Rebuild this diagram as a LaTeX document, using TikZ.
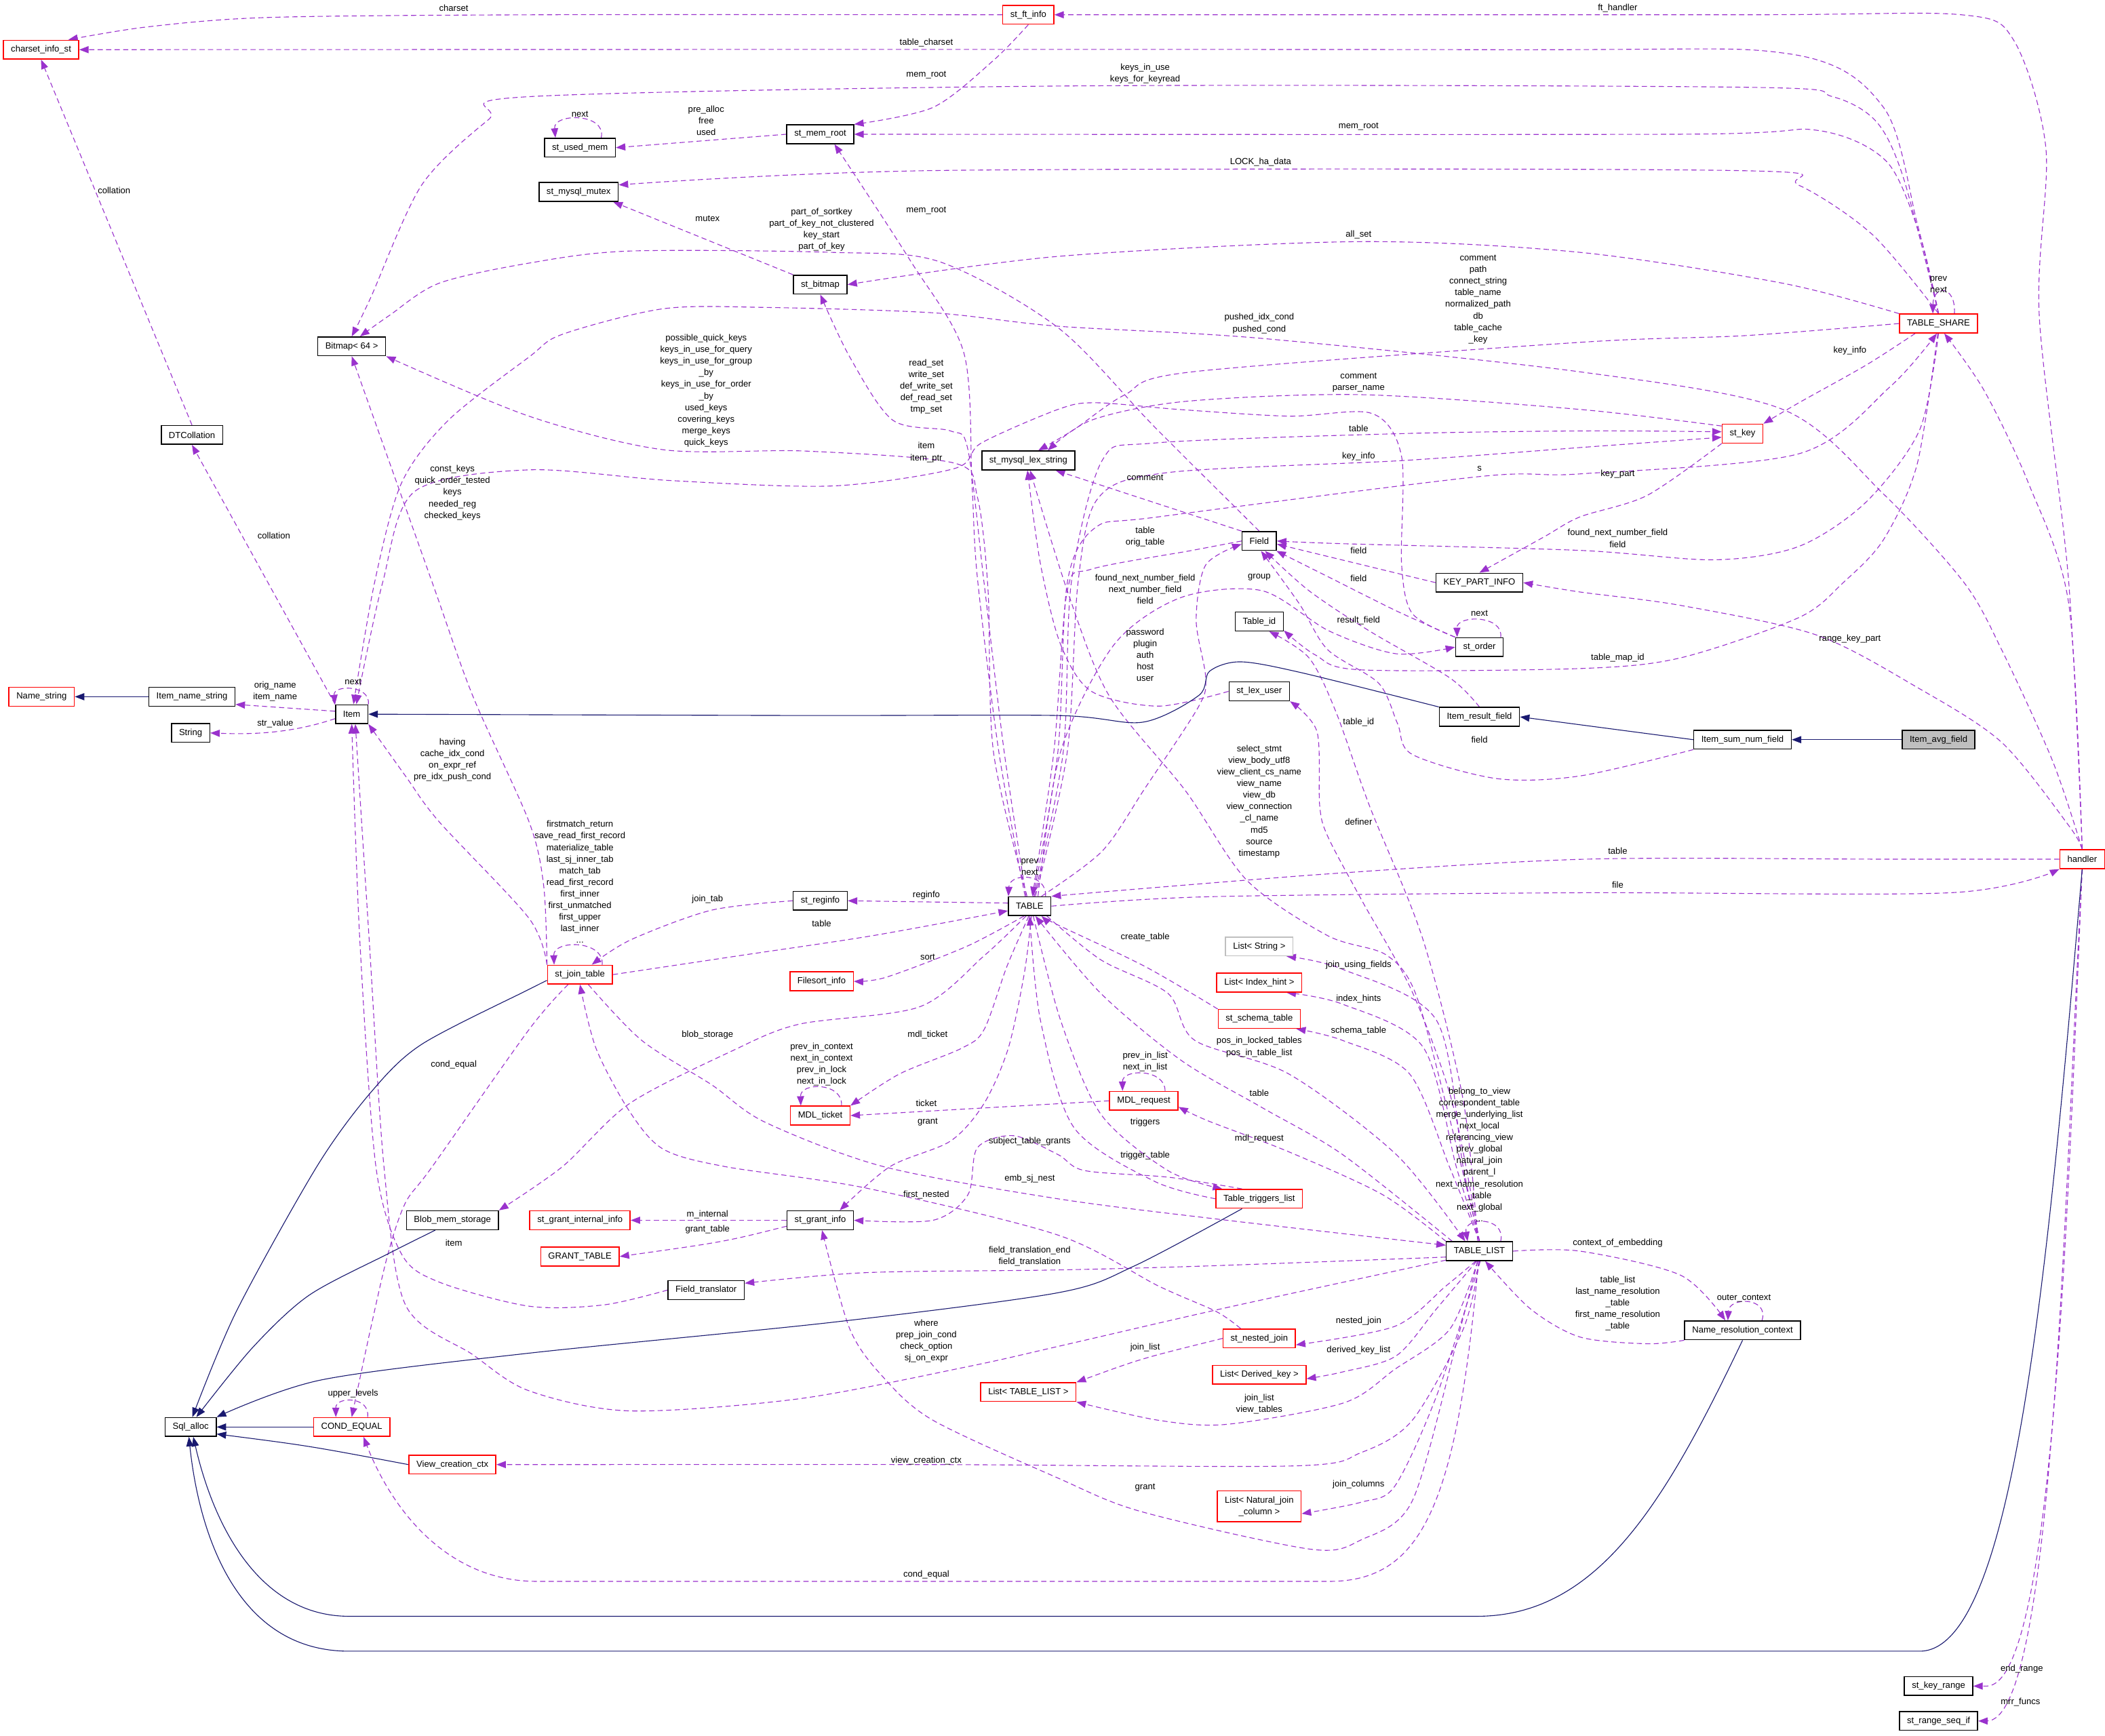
\documentclass[tikz,border=0pt]{standalone}
\usepackage{fontspec}
\setmainfont{Liberation Sans}
\usetikzlibrary{arrows.meta}

\definecolor{depcol}{HTML}{9A32CD}
\definecolor{inhcol}{HTML}{191970}
\definecolor{boxgray}{HTML}{BFBFBF}

\pgfdeclarelayer{edges}
\pgfsetlayers{edges,main}

\tikzset{
  cls/.style={draw=black, line width=1.1pt, fill=white, minimum height=0.7cm,
    inner xsep=8pt, inner ysep=0pt, align=center, font=\fontsize{9.4}{12.3}\selectfont},
  redcls/.style={cls, draw=red},
  graycls/.style={cls, draw=boxgray},
  dep/.style={draw=depcol, line width=0.8pt, dash pattern=on 5.5pt off 3.5pt,
    -{Triangle[length=10pt,width=7.5pt]}},
  inh/.style={draw=inhcol, line width=0.8pt, -{Triangle[length=10pt,width=7.5pt]}},
  lab/.style={font=\fontsize{9.4}{12.3}\selectfont, align=center, inner sep=0pt},
}

\begin{document}
\begin{tikzpicture}[x=0.05cm, y=-0.05cm]
    \useasboundingbox (0,0) rectangle (1568,1293);

    % --- classes ---
    \node[redcls] (charset_info_st) at (30.6,37) {charset\_info\_st};
    \node[redcls] (st_ft_info) at (766,11) {st\_ft\_info};
    \node[cls] (st_mem_root) at (611,100) {st\_mem\_root};
    \node[cls] (st_used_mem) at (432,110) {st\_used\_mem};
    \node[cls] (st_mysql_mutex) at (431,143) {st\_mysql\_mutex};
    \node[cls] (st_bitmap) at (611,212) {st\_bitmap};
    \node[cls] (bitmap64) at (262,258) {Bitmap< 64 >};
    \node[redcls] (TABLE_SHARE) at (1444,241) {TABLE\_SHARE};
    \node[redcls] (st_key) at (1298,323) {st\_key};
    \node[cls] (st_mysql_lex_string) at (766,343) {st\_mysql\_lex\_string};
    \node[cls] (DTCollation) at (143,324) {DTCollation};
    \node[cls] (Field) at (938,403) {Field};
    \node[cls] (KEY_PART_INFO) at (1102,434) {KEY\_PART\_INFO};
    \node[cls] (Table_id) at (938,463) {Table\_id};
    \node[cls] (st_order) at (1102,482) {st\_order};
    \node[redcls] (Name_string) at (31,519) {Name\_string};
    \node[cls] (Item_name_string) at (143,519) {Item\_name\_string};
    \node[cls] (Item) at (262,532) {Item};
    \node[cls] (String) at (142,546) {String};
    \node[cls] (st_lex_user) at (938,515) {st\_lex\_user};
    \node[cls] (Item_result_field) at (1102,534) {Item\_result\_field};
    \node[cls] (Item_sum_num_field) at (1298,551) {Item\_sum\_num\_field};
    \node[cls, fill=boxgray] (Item_avg_field) at (1444,551) {Item\_avg\_field};
    \node[redcls] (handler) at (1551,640) {handler};
    \node[cls] (st_reginfo) at (611,671) {st\_reginfo};
    \node[cls] (TABLE) at (767,675) {TABLE};
    \node[redcls] (st_join_table) at (432,726) {st\_join\_table};
    \node[redcls] (Filesort_info) at (612,731) {Filesort\_info};
    \node[graycls] (list_string) at (938,705) {List< String >};
    \node[redcls] (list_index_hint) at (938,732) {List< Index\_hint >};
    \node[redcls] (st_schema_table) at (938,759) {st\_schema\_table};
    \node[redcls] (MDL_request) at (852,820) {MDL\_request};
    \node[redcls] (MDL_ticket) at (611,831) {MDL\_ticket};
    \node[redcls] (Table_triggers_list) at (938,893) {Table\_triggers\_list};
    \node[cls] (Blob_mem_storage) at (337,909) {Blob\_mem\_storage};
    \node[redcls] (st_grant_internal_info) at (432,909) {st\_grant\_internal\_info};
    \node[cls] (st_grant_info) at (611,909) {st\_grant\_info};
    \node[redcls] (GRANT_TABLE) at (432,936) {GRANT\_TABLE};
    \node[cls] (Field_translator) at (526,961) {Field\_translator};
    \node[cls] (TABLE_LIST) at (1102,932) {TABLE\_LIST};
    \node[cls] (Name_resolution_context) at (1298,991) {Name\_resolution\_context};
    \node[redcls] (st_nested_join) at (938,997) {st\_nested\_join};
    \node[redcls] (list_derived_key) at (938,1024) {List< Derived\_key >};
    \node[redcls] (list_table_list) at (766,1037) {List< TABLE\_LIST >};
    \node[cls] (Sql_alloc) at (142,1063) {Sql\_alloc};
    \node[redcls] (COND_EQUAL) at (262,1063) {COND\_EQUAL};
    \node[redcls] (View_creation_ctx) at (337,1091) {View\_creation\_ctx};
    \node[redcls, minimum height=1.15cm] (list_natural_join) at (938,1122) {List< Natural\_join\\\_column >};
    \node[cls] (st_key_range) at (1444,1256) {st\_key\_range};
    \node[cls] (st_range_seq_if) at (1444,1282) {st\_range\_seq\_if};

    % --- edge labels ---
    \node[lab] (lcharset) at (338,6) {charset};
    \node[lab] (lftHandler) at (1205,6) {ft\_handler};
    \node[lab] (ltableCharset) at (690,32) {table\_charset};
    \node[lab] (lmemRootFt) at (690,56) {mem\_root};
    \node[lab] (lkeysInUse) at (853,55) {keys\_in\_use\\keys\_for\_keyread};
    \node[lab] (lpreAlloc) at (526,90) {pre\_alloc\\free\\used};
    \node[lab] (lnextUsed) at (432,85) {next};
    \node[lab] (lmemRootShare) at (1012,94) {mem\_root};
    \node[lab] (llock) at (939,121) {LOCK\_ha\_data};
    \node[lab] (lcollation1) at (85,142) {collation};
    \node[lab] (lmemRootTable) at (690,157) {mem\_root};
    \node[lab] (lmutex) at (527,163) {mutex};
    \node[lab] (lpartOf) at (612,171) {part\_of\_sortkey\\part\_of\_key\_not\_clustered\\key\_start\\part\_of\_key};
    \node[lab] (lallSet) at (1012,175) {all\_set};
    \node[lab] (lprevNextShare) at (1444,212) {prev\\next};
    \node[lab] (lcommentShare) at (1101,223) {comment\\path\\connect\_string\\table\_name\\normalized\_path\\db\\table\_cache\\\_key};
    \node[lab] (lpushed) at (938,241) {pushed\_idx\_cond\\pushed\_cond};
    \node[lab] (lkeyInfoShare) at (1378,261) {key\_info};
    \node[lab] (lreadSet) at (690,288) {read\_set\\write\_set\\def\_write\_set\\def\_read\_set\\tmp\_set};
    \node[lab] (lcommentKey) at (1012,285) {comment\\parser\_name};
    \node[lab] (lpossible) at (526,291) {possible\_quick\_keys\\keys\_in\_use\_for\_query\\keys\_in\_use\_for\_group\\\_by\\keys\_in\_use\_for\_order\\\_by\\used\_keys\\covering\_keys\\merge\_keys\\quick\_keys};
    \node[lab] (ltableTab) at (1012,319) {table};
    \node[lab] (lkeyInfoTab) at (1012,340) {key\_info};
    \node[lab] (litemOrder) at (690,337) {item\\item\_ptr};
    \node[lab] (ls) at (1102,349) {s};
    \node[lab] (lkeyPart) at (1205,353) {key\_part};
    \node[lab] (lcommentField) at (853,356) {comment};
    \node[lab] (lconstKeys) at (337,367) {const\_keys\\quick\_order\_tested\\keys\\needed\_reg\\checked\_keys};
    \node[lab] (lcollation2) at (204,399) {collation};
    \node[lab] (ltableOrig) at (853,400) {table\\orig\_table};
    \node[lab] (lfoundShare) at (1205,401) {found\_next\_number\_field\\field};
    \node[lab] (lfieldKpi) at (1012,410) {field};
    \node[lab] (lgroup) at (938,430) {group};
    \node[lab] (lfieldOrder) at (1012,431) {field};
    \node[lab] (lfoundTab) at (853,439) {found\_next\_number\_field\\next\_number\_field\\field};
    \node[lab] (lnextOrder) at (1102,457) {next};
    \node[lab] (lresultField) at (1012,462) {result\_field};
    \node[lab] (lrangeKeyPart) at (1378,476) {range\_key\_part};
    \node[lab] (lpassword) at (853,488) {password\\plugin\\auth\\host\\user};
    \node[lab] (ltableMapId) at (1205,490) {table\_map\_id};
    \node[lab] (lnextItem) at (263,508) {next};
    \node[lab] (lorigName) at (205,515) {orig\_name\\item\_name};
    \node[lab] (ltableId) at (1012,538) {table\_id};
    \node[lab] (lstrValue) at (205,539) {str\_value};
    \node[lab] (lfieldSum) at (1102,551) {field};
    \node[lab] (lhaving) at (337,566) {having\\cache\_idx\_cond\\on\_expr\_ref\\pre\_idx\_push\_cond};
    \node[lab] (lselect) at (938,597) {select\_stmt\\view\_body\_utf8\\view\_client\_cs\_name\\view\_name\\view\_db\\view\_connection\\\_cl\_name\\md5\\source\\timestamp};
    \node[lab] (ldefiner) at (1012,612) {definer};
    \node[lab] (ltableHandler) at (1205,634) {table};
    \node[lab] (lprevNextTab) at (767,646) {prev\\next};
    \node[lab] (lfirstmatch) at (432,657) {firstmatch\_return\\save\_read\_first\_record\\materialize\_table\\last\_sj\_inner\_tab\\match\_tab\\read\_first\_record\\first\_inner\\first\_unmatched\\first\_upper\\last\_inner\\...};
    \node[lab] (ljoinTab) at (527,670) {join\_tab};
    \node[lab] (lreginfo) at (690,667) {reginfo};
    \node[lab] (lfile) at (1205,659) {file};
    \node[lab] (ltableJoin) at (612,688) {table};
    \node[lab] (lcreateTable) at (853,698) {create\_table};
    \node[lab] (lsort) at (691,713) {sort};
    \node[lab] (ljoinUsing) at (1012,719) {join\_using\_fields};
    \node[lab] (lindexHints) at (1012,744) {index\_hints};
    \node[lab] (lschemaTable) at (1012,768) {schema\_table};
    \node[lab] (lblob) at (527,771) {blob\_storage};
    \node[lab] (lmdlTicket) at (691,771) {mdl\_ticket};
    \node[lab] (lposIn) at (938,780) {pos\_in\_locked\_tables\\pos\_in\_table\_list};
    \node[lab] (lprevInContext) at (612,793) {prev\_in\_context\\next\_in\_context\\prev\_in\_lock\\next\_in\_lock};
    \node[lab] (lprevInList) at (853,791) {prev\_in\_list\\next\_in\_list};
    \node[lab] (lcondEqualJoin) at (338,793) {cond\_equal};
    \node[lab] (ltableList) at (938,814) {table};
    \node[lab] (lticket) at (690,822) {ticket};
    \node[lab] (lgrantTab) at (691,836) {grant};
    \node[lab] (ltriggers) at (853,836) {triggers};
    \node[lab] (lmdlRequest) at (938,848) {mdl\_request};
    \node[lab] (lsubject) at (767,850) {subject\_table\_grants};
    \node[lab] (lbelong) at (1102,860) {belong\_to\_view\\correspondent\_table\\merge\_underlying\_list\\next\_local\\referencing\_view\\prev\_global\\natural\_join\\parent\_l\\next\_name\_resolution\\\_table\\next\_global\\...};
    \node[lab] (ltriggerTable) at (853,861) {trigger\_table};
    \node[lab] (lembSjNest) at (767,878) {emb\_sj\_nest};
    \node[lab] (lfirstNested) at (690,890) {first\_nested};
    \node[lab] (lmInternal) at (527,905) {m\_internal};
    \node[lab] (lgrantTable) at (527,916) {grant\_table};
    \node[lab] (litem) at (338,926) {item};
    \node[lab] (lcontextEmb) at (1205,926) {context\_of\_embedding};
    \node[lab] (lfieldTrans) at (767,936) {field\_translation\_end\\field\_translation};
    \node[lab] (ltableListNrc) at (1205,971) {table\_list\\last\_name\_resolution\\\_table\\first\_name\_resolution\\\_table};
    \node[lab] (louter) at (1299,967) {outer\_context};
    \node[lab] (lnestedJoin) at (1012,984) {nested\_join};
    \node[lab] (lwhere) at (690,999) {where\\prep\_join\_cond\\check\_option\\sj\_on\_expr};
    \node[lab] (ljoinList) at (853,1004) {join\_list};
    \node[lab] (lderived) at (1012,1006) {derived\_key\_list};
    \node[lab] (lupper) at (263,1038) {upper\_levels};
    \node[lab] (ljoinListView) at (938,1046) {join\_list\\view\_tables};
    \node[lab] (lviewCtx) at (690,1088) {view\_creation\_ctx};
    \node[lab] (ljoinColumns) at (1012,1106) {join\_columns};
    \node[lab] (lgrantList) at (853,1108) {grant};
    \node[lab] (lcondEqualList) at (690,1173) {cond\_equal};
    \node[lab] (lendRange) at (1506,1243) {end\_range};
    \node[lab] (lmrr) at (1505,1268) {mrr\_funcs};

    \begin{pgfonlayer}{edges}
    \fill[white] (0,0) rectangle (1568,1293);

    % --- members: top part ---
    \draw[dep] plot[smooth] coordinates {(st_ft_info.west) (400,11) (200,13) (110,20) (charset_info_st.20)};
    \draw[dep] plot[smooth] coordinates {(TABLE_SHARE.north) (1428,166) (1403,80) (1332,40) (1100,37) (charset_info_st.east)};
    \draw[dep] (DTCollation.north) -- (charset_info_st.south);
    \draw[dep] (Item.north west) -- (DTCollation.south);
    \draw[dep] plot[smooth] coordinates {(st_ft_info.south) (740,45) (695,80) (st_mem_root.north east)};
    \draw[dep] plot[smooth] coordinates {(TABLE_SHARE.north) (1430,175) (1405,120) (1353,97) (1250,100) (st_mem_root.east)};
    \draw[dep] (st_mem_root.west) -- (st_used_mem.east);
    \draw[dep] (st_used_mem.25) .. controls (452,84) and (412,84) .. (st_used_mem.158);
    \draw[dep] plot[smooth] coordinates {(TABLE_SHARE.north) (1395,175) (1340,138) (1290,127) (700,127) (st_mysql_mutex.10)};
    \draw[dep] (st_bitmap.north west) -- (st_mysql_mutex.-16);
    \draw[dep] plot[smooth] coordinates {(TABLE_SHARE.north west) (1328,211) (1177,188) (1012,180) (788,191) (st_bitmap.east)};
    \draw[dep] plot[smooth] coordinates {(TABLE.110) (748,560) (733,434) (721,335) (708,321) (665,313) (633,266) (st_bitmap.south)};
    \draw[dep] plot[smooth] coordinates {(TABLE.115) (744,560) (728,430) (724,360) (718,263) (678,194) (st_mem_root.-35)};
    \draw[dep] plot[smooth] coordinates {(TABLE_SHARE.north) (1418,133) (1398,91) (1365,72) (1300,65) (800,64) (394,72) (364,89) (314,138) (276,222) (bitmap64.north)};
    \draw[dep] plot[smooth] coordinates {(Field.north) (860,318) (788,244) (700,195) (620,188) (469,187) (394,196) (327,211) (290,235) (bitmap64.50)};
    \draw[dep] plot[smooth] coordinates {(TABLE.105) (740,560) (736,440) (728,370) (711,345) (600,336) (494,335) (394,310) (bitmap64.south east)};
    \draw[dep] plot[smooth] coordinates {(st_join_table.north west) (405,660) (394,612) (352,518) (322,434) (bitmap64.south)};
    \draw[dep] plot[smooth] coordinates {(handler.north) (1529,567) (1491,484) (1463,434) (1403,368) (1328,305) (1177,277) (939,252) (788,243) (695,233) (570,229) (494,230) (419,249) (394,266) (334,313) (299,360) (279,434) (Item.80)};
    \draw[dep] plot[smooth] coordinates {(st_order.north west) (1052,457) (1044,420) (1044,340) (1022,308) (960,310) (878,305) (816,300) (788,305) (731,330) (711,349) (620,362) (500,358) (394,350) (309,366) (285,434) (Item.65)};
    \draw[dep] (Item.north east) .. controls (276,510) and (248,510) .. (Item.north west);
    \draw[dep] (Item.170) -- (Item_name_string.-10);
    \draw[dep] (Item.-165) .. controls (215,547) and (185,547) .. (String.east);

    % --- TABLE_SHARE, st_key, Field ---
    \draw[dep] plot[smooth] coordinates {(TABLE_SHARE.-157) (1390,272) (1340,300) (st_key.north east)};
    \draw[dep] plot[smooth] coordinates {(st_key.south west) (1227,369) (1177,385) (1150,400) (KEY_PART_INFO.north)};
    \draw[dep] plot[smooth] coordinates {(TABLE.70) (788,560) (795,434) (816,393) (863,385) (1102,355) (1177,353) (1340,338) (1408,288) (TABLE_SHARE.-100)};
    \draw[dep] plot[smooth] coordinates {(handler.north) (1541,450) (1511,360) (1478,291) (TABLE_SHARE.-60)};
    \draw[dep] plot[smooth] coordinates {(handler.north) (1541,434) (1519,235) (1524,111) (1500,30) (1461,11) (1300,11) (st_ft_info.east)};
    \draw[dep] (TABLE_SHARE.32) .. controls (1457,212) and (1440,212) .. (TABLE_SHARE.120);
    \draw[dep] plot[smooth] coordinates {(TABLE_SHARE.west) (1300,250) (1177,255) (888,277) (838,294) (800,320) (st_mysql_lex_string.45)};
    \draw[dep] plot[smooth] coordinates {(st_key.160) (1177,305) (1014,294) (883,299) (813,313) (st_mysql_lex_string.27)};
    \draw[dep] plot[smooth] coordinates {(TABLE.60) (795,560) (803,434) (818,371) (870,352) (1046,343) (1182,333) (st_key.-170)};
    \draw[dep] plot[smooth] coordinates {(TABLE.65) (792,560) (798,434) (821,343) (860,330) (1044,323) (1182,321) (st_key.175)};
    \draw[dep] (Field.north west) -- (st_mysql_lex_string.-20);
    \draw[dep] plot[smooth] coordinates {(Field.west) (888,410) (813,424) (795,440) (785,560) (TABLE.75)};
    \draw[dep] plot[smooth] coordinates {(TABLE.40) (821,634) (853,587) (893,526) (898,504) (891,462) (898,421) (Field.-170)};
    \draw[dep] (KEY_PART_INFO.west) -- (Field.-10);
    \draw[dep] plot[smooth] coordinates {(TABLE_SHARE.south) (1430,320) (1390,374) (1340,407) (1277,417) (1177,410) (1000,405) (Field.east)};
    \draw[dep] plot[smooth] coordinates {(st_order.north west) (1040,455) (990,430) (Field.-30)};
    \draw[dep] plot[smooth] coordinates {(Item_result_field.north) (1080,505) (1020,470) (975,440) (Field.-60)};
    \draw[dep] plot[smooth] coordinates {(Item_sum_num_field.south west) (1177,578) (1115,580) (1052,562) (1041,539) (1027,509) (989,484) (968,450) (Field.-80)};
    \draw[dep] plot[smooth] coordinates {(TABLE.50) (790,560) (830,480) (880,445) (940,440) (990,470) (1040,487) (st_order.west)};
    \draw[dep] (st_order.25) .. controls (1120,458) and (1085,458) .. (st_order.156);
    \draw[dep] plot[smooth] coordinates {(TABLE_SHARE.-95) (1428,346) (1403,402) (1373,434) (1340,460) (1252,490) (1177,498) (1014,499) (980,488) (Table_id.-20)};
    \draw[dep] plot[smooth] coordinates {(TABLE_LIST.100) (1090,820) (1060,700) (1020,600) (995,530) (975,490) (Table_id.-45)};
    \draw[dep] plot[smooth] coordinates {(TABLE_LIST.north) (1082,822) (1052,739) (1014,670) (989,623) (983,600) (981,545) (st_lex_user.south east)};
    \draw[dep] plot[smooth] coordinates {(st_lex_user.west) (863,526) (813,515) (790,480) (775,420) (st_mysql_lex_string.-95)};
    \draw[dep] plot[smooth] coordinates {(TABLE_LIST.north) (1077,822) (1054,739) (1032,711) (989,697) (929,656) (883,589) (826,518) (795,440) (st_mysql_lex_string.-80)};

    % --- TABLE ---
    \draw[dep] (TABLE.32) .. controls (780,650) and (752,650) .. (TABLE.155);
    \draw[dep] (TABLE.172) -- (st_reginfo.east);
    \draw[dep] plot[smooth] coordinates {(st_join_table.east) (550,712) (650,697) (TABLE.-168)};
    \draw[dep] plot[smooth] coordinates {(st_reginfo.west) (530,678) (470,700) (st_join_table.40)};
    \draw[dep] plot[smooth] coordinates {(TABLE.-120) (720,705) (660,728) (Filesort_info.east)};
    \draw[dep] plot[smooth] coordinates {(TABLE.-110) (733,712) (685,750) (595,763) (545,783) (469,822) (419,869) (Blob_mem_storage.north east)};
    \draw[dep] plot[smooth] coordinates {(TABLE.-95) (750,720) (733,767) (716,781) (670,800) (MDL_ticket.north east)};
    \draw[dep] (MDL_ticket.25) .. controls (628,806) and (596,806) .. (MDL_ticket.153);
    \draw[dep] (MDL_request.west) -- (MDL_ticket.east);
    \draw[dep] plot[smooth] coordinates {(TABLE.-80) (763,725) (751,781) (733,822) (708,850) (663,869) (st_grant_info.27)};
    \draw[dep] (MDL_request.25) .. controls (868,796) and (836,796) .. (MDL_request.155);
    \draw[dep] plot[smooth] coordinates {(TABLE_LIST.north west) (1030,890) (960,858) (900,835) (MDL_request.-10)};
    \draw[dep] plot[smooth] coordinates {(TABLE_LIST.160) (1000,860) (940,825) (880,790) (820,740) (TABLE.-60)};
    \draw[dep] plot[smooth] coordinates {(TABLE.-30) (820,715) (870,740) (890,775) (960,800) (1040,860) (TABLE_LIST.145)};
    \draw[dep] plot[smooth] coordinates {(st_schema_table.north west) (853,720) (788,689) (TABLE.-40)};
    \draw[dep] plot[smooth] coordinates {(TABLE_LIST.north) (1080,870) (1050,800) (1000,775) (st_schema_table.-15)};
    \draw[dep] plot[smooth] coordinates {(TABLE_LIST.north) (1085,870) (1060,780) (1000,748) (list_index_hint.-20)};
    \draw[dep] plot[smooth] coordinates {(TABLE_LIST.north) (1090,870) (1070,760) (1000,722) (list_string.-20)};
    \draw[dep] plot[smooth] coordinates {(TABLE.-70) (790,760) (820,830) (870,872) (Table_triggers_list.165)};
    \draw[dep] plot[smooth] coordinates {(Table_triggers_list.west) (860,880) (800,840) (775,760) (TABLE.-90)};
    \draw[dep] plot[smooth] coordinates {(Table_triggers_list.150) (871,877) (808,872) (788,860) (755,846) (728,855) (721,890) (695,909) (st_grant_info.east)};
    \draw[dep] plot[smooth] coordinates {(TABLE_LIST.-100) (1085,1000) (1052,1118) (1014,1147) (976,1154) (850,1126) (788,1101) (695,1058) (658,1026) (633,990) (st_grant_info.-80)};

    % --- st_join_table, Item ---
    \draw[dep] plot[smooth] coordinates {(st_nested_join.152) (906,977) (863,958) (788,920) (645,885) (540,869) (494,856) (469,828) (444,781) (st_join_table.-90)};
    \draw[dep] plot[smooth] coordinates {(st_join_table.-50) (478,775) (530,808) (570,836) (658,869) (788,893) (914,909) (TABLE_LIST.170)};
    \draw[dep] plot[smooth] coordinates {(TABLE_LIST.-170) (900,943) (788,946) (645,948) (Field_translator.10)};
    \draw[dep] plot[smooth] coordinates {(TABLE_LIST.-165) (914,974) (788,1003) (721,1018) (595,1042) (469,1051) (394,1036) (352,1009) (302,972) (286,869) (275,700) (Item.-70)};
    \draw[dep] plot[smooth] coordinates {(Field_translator.west) (450,972) (394,973) (327,955) (299,934) (280,869) (268,700) (Item.-90)};
    \draw[dep] plot[smooth] coordinates {(st_join_table.north west) (394,684) (327,612) (302,578) (Item.south east)};
    \draw[dep] (st_join_table.24) .. controls (450,700) and (412,700) .. (st_join_table.159);
    \draw[dep] plot[smooth] coordinates {(st_join_table.-140) (394,767) (322,869) (302,896) (289,934) (276,990) (COND_EQUAL.north)};
    \draw[dep] (COND_EQUAL.32) .. controls (276,1040) and (250,1040) .. (COND_EQUAL.148);

    % --- TABLE_LIST ---
    \draw[dep] (TABLE_LIST.-95) .. controls (1085,1120) and (1060,1178) .. (990,1178)
        -- (400,1178) .. controls (330,1178) and (290,1120) .. (COND_EQUAL.-40);
    \draw[dep] plot[smooth] coordinates {(TABLE_LIST.-90) (1090,990) (1052,1058) (1014,1082) (963,1092) (700,1091) (View_creation_ctx.east)};
    \draw[dep] plot[smooth] coordinates {(TABLE_LIST.-85) (1070,1040) (1039,1107) (1014,1119) (list_natural_join.-10)};
    \draw[dep] plot[smooth] coordinates {(TABLE_LIST.-110) (1077,958) (1039,988) (st_nested_join.-10)};
    \draw[dep] plot[smooth] coordinates {(TABLE_LIST.-105) (1070,975) (1040,1010) (1000,1022) (list_derived_key.-5)};
    \draw[dep] plot[smooth] coordinates {(TABLE_LIST.-100) (1080,990) (1039,1020) (1001,1045) (914,1061) (863,1058) (list_table_list.south east)};
    \draw[dep] (st_nested_join.west) .. controls (850,1012) .. (list_table_list.north east);
    \draw[dep] plot[smooth] coordinates {(TABLE_LIST.east) (1177,932) (1252,950) (Name_resolution_context.150)};
    \draw[dep] plot[smooth] coordinates {(Name_resolution_context.south west) (1227,1001) (1177,996) (1140,975) (TABLE_LIST.-60)};
    \draw[dep] (Name_resolution_context.27) .. controls (1318,966) and (1288,966) .. (Name_resolution_context.146);
    \draw[dep] (TABLE_LIST.25) .. controls (1122,906) and (1090,906) .. (TABLE_LIST.140);
    \draw[dep] (st_grant_info.west) -- (st_grant_internal_info.east);
    \draw[dep] (st_grant_info.-170) .. controls (540,925) .. (GRANT_TABLE.east);

    % --- handler ---
    \draw[dep] plot[smooth] coordinates {(TABLE.east) (900,668) (1177,665) (1453,665) (handler.south west)};
    \draw[dep] plot[smooth] coordinates {(handler.west) (1400,640) (1182,640) (989,651) (TABLE.north east)};
    \draw[dep] plot[smooth] coordinates {(handler.north) (1541,615) (1491,553) (1428,512) (1353,473) (1252,451) (1177,441) (KEY_PART_INFO.east)};
    \draw[dep] (handler.south) .. controls (1540,900) and (1530,1255) .. (1480,1256) -- (st_key_range.east);
    \draw[dep] (handler.south) .. controls (1537,900) and (1530,1282) .. (1480,1282) -- (st_range_seq_if.east);

    % --- inheritance ---
    \draw[inh] (Item_name_string.west) -- (Name_string.east);
    \draw[inh] plot[smooth] coordinates {(Item_result_field.north west) (969,501) (924,493) (901,500) (893,518) (851,538) (788,533) (600,533) (Item.east)};
    \draw[inh] (Item_sum_num_field.west) -- (Item_result_field.east);
    \draw[inh] (Item_avg_field.west) -- (Item_sum_num_field.east);
    \draw[inh] plot[smooth] coordinates {(st_join_table.-170) (394,737) (314,778) (276,814) (236,869) (176,977) (Sql_alloc.80)};
    \draw[inh] plot[smooth] coordinates {(Blob_mem_storage.-150) (289,934) (230,965) (188,1004) (Sql_alloc.60)};
    \draw[inh] plot[smooth] coordinates {(Table_triggers_list.-150) (845,943) (788,963) (620,985) (394,1008) (239,1028) (Sql_alloc.north east)};
    \draw[inh] (COND_EQUAL.west) -- (Sql_alloc.east);
    \draw[inh] (View_creation_ctx.west) .. controls (230,1077) .. (Sql_alloc.-15);
    \draw[inh] (Name_resolution_context.south) .. controls (1240,1120) and (1190,1204) .. (1100,1204)
        -- (260,1204) .. controls (195,1204) and (160,1140) .. (Sql_alloc.-75);
    \draw[inh] (handler.south) .. controls (1525,950) and (1500,1230) .. (1430,1230)
        -- (260,1230) .. controls (175,1230) and (148,1140) .. (Sql_alloc.-100);
    \end{pgfonlayer}
\end{tikzpicture}
\end{document}
